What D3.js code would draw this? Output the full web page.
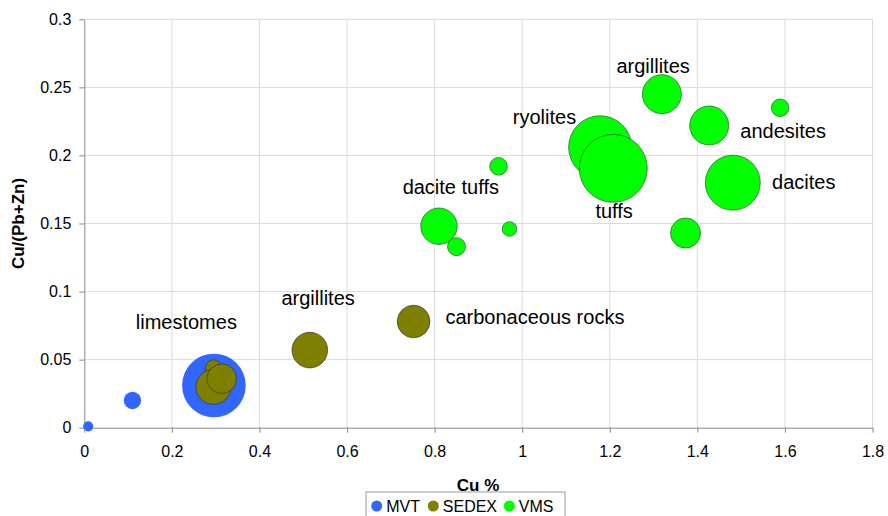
<!DOCTYPE html>
<html>
<head>
<meta charset="utf-8">
<script src="https://cdn.jsdelivr.net/npm/d3@7"></script>
<style>
  body { margin: 0; background: #fff; }
  svg { display: block; font-family: "Liberation Sans", Arial, sans-serif; }
  .grid line { stroke: #dadada; stroke-width: 1; }
  .axis path, .axis line { stroke: #888; }
  .axis text { font-size: 16px; fill: #000; }
  .lab { font-size: 20px; fill: #000; }
</style>
</head>
<body>
<div id="chart"></div>
<script>
// Cu % , Cu/(Pb+Zn), bubble size
var mvtCu   = [0.009, 0.110, 0.296];
var mvtRat  = [0.001, 0.020, 0.031];
var mvtSize = [2.2, 6.5, 87.5];

var sedexCu   = [0.295, 0.295, 0.314, 0.515, 0.752];
var sedexRat  = [0.044, 0.030, 0.036, 0.057, 0.078];
var sedexSize = [5.5, 26.5, 19.0, 27.4, 23.0];

var vmsCu   = [0.810, 0.850, 0.946, 0.971, 1.178, 1.208, 1.319, 1.427, 1.589, 1.481, 1.373];
var vmsRat  = [0.148, 0.133, 0.192, 0.146, 0.206, 0.1905, 0.245, 0.222, 0.235, 0.180, 0.143];
var vmsSize = [28.7, 7.0, 6.7, 4.6, 85.8, 100, 32.9, 32.9, 6.7, 65.4, 19.5];

var seriesNames  = ['MVT', 'SEDEX', 'VMS'];
var seriesColors = ['#3366ff', '#808000', '#00ff00'];

var xTicks = [0, 0.2, 0.4, 0.6, 0.8, 1, 1.2, 1.4, 1.6, 1.8];
var yTicks = [0, 0.05, 0.1, 0.15, 0.2, 0.25, 0.3];

// rock labels (centre x, baseline y in data units)
var labText = ['limestomes', 'argillites', 'carbonaceous rocks', 'dacite tuffs', 'ryolites',
               'tuffs', 'argillites', 'andesites', 'dacites'];
var labCu   = [0.233, 0.534, 1.029, 0.837, 1.051, 1.210, 1.299, 1.596, 1.643];
var labRat  = [0.0725, 0.0901, 0.0762, 0.1717, 0.2231, 0.154, 0.2603, 0.2126, 0.1753];

var width = 888, height = 516;
var margin = {top: 19.3, right: 15.5, bottom: 88.3, left: 84.3};
var w = width - margin.left - margin.right;
var h = height - margin.top - margin.bottom;

var svg = d3.select('#chart').append('svg')
    .attr('width', width).attr('height', height);
var g = svg.append('g')
    .attr('transform', 'translate(' + margin.left + ',' + margin.top + ')');

var x = d3.scaleLinear().domain([0, 1.8]).range([0, w]);
var y = d3.scaleLinear().domain([0, 0.3]).range([h, 0]);
var r = d3.scaleSqrt().domain([0, 100]).range([0, 34]);

// gridlines
g.append('g').attr('class', 'grid')
  .selectAll('line').data(xTicks.slice(1)).enter().append('line')
    .attr('x1', d => x(d)).attr('x2', d => x(d))
    .attr('y1', 0).attr('y2', h);
g.append('g').attr('class', 'grid')
  .selectAll('line').data(yTicks.slice(1)).enter().append('line')
    .attr('x1', 0).attr('x2', w)
    .attr('y1', d => y(d)).attr('y2', d => y(d));

var fmt = d => String(+d.toFixed(2));

g.append('g').attr('class', 'axis')
    .attr('transform', 'translate(0,' + h + ')')
    .call(d3.axisBottom(x).tickValues(xTicks).tickFormat(fmt).tickSize(5).tickSizeOuter(0).tickPadding(13));
g.append('g').attr('class', 'axis')
    .call(d3.axisLeft(y).tickValues(yTicks).tickFormat(fmt).tickSize(5).tickSizeOuter(0).tickPadding(8));

// bubbles
var series = [
  {cu: mvtCu, rat: mvtRat, size: mvtSize, stroke: 'none'},
  {cu: sedexCu, rat: sedexRat, size: sedexSize, stroke: '#333'},
  {cu: vmsCu, rat: vmsRat, size: vmsSize, stroke: '#2a5a2a'}
];
series.forEach((s, i) => {
  var pts = s.cu.map((c, j) => ({cu: c, rat: s.rat[j], size: s.size[j]}));
  g.append('g').selectAll('circle').data(pts).enter().append('circle')
      .attr('cx', d => x(d.cu))
      .attr('cy', d => y(d.rat))
      .attr('r', d => r(d.size))
      .attr('fill', seriesColors[i])
      .attr('stroke', s.stroke)
      .attr('stroke-width', 0.7);
});

// labels
g.append('g').selectAll('text').data(labText).enter().append('text')
    .attr('class', 'lab')
    .attr('text-anchor', 'middle')
    .attr('x', (d, i) => x(labCu[i]))
    .attr('y', (d, i) => y(labRat[i]))
    .text(d => d);

// axis titles
svg.append('text')
    .attr('x', 478).attr('y', 491)
    .attr('text-anchor', 'middle')
    .style('font-size', '17px').style('font-weight', 'bold')
    .text('Cu %');
svg.append('text')
    .attr('transform', 'translate(24,' + (margin.top + h / 2) + ') rotate(-90)')
    .attr('text-anchor', 'middle')
    .style('font-size', '17px').style('font-weight', 'bold')
    .text('Cu/(Pb+Zn)');

// legend
var leg = svg.append('g');
leg.append('rect')
    .attr('x', 366).attr('y', 492).attr('width', 199).attr('height', 30)
    .attr('fill', '#fff').attr('stroke', '#999');
var legX = [376.7, 433.3, 509.3];
seriesNames.forEach((n, i) => {
  leg.append('circle')
      .attr('cx', legX[i]).attr('cy', 506).attr('r', 5.5)
      .attr('fill', seriesColors[i]);
  leg.append('text')
      .attr('x', legX[i] + 9.5).attr('y', 511.7)
      .style('font-size', '16px')
      .text(n);
});
</script>
</body>
</html>
